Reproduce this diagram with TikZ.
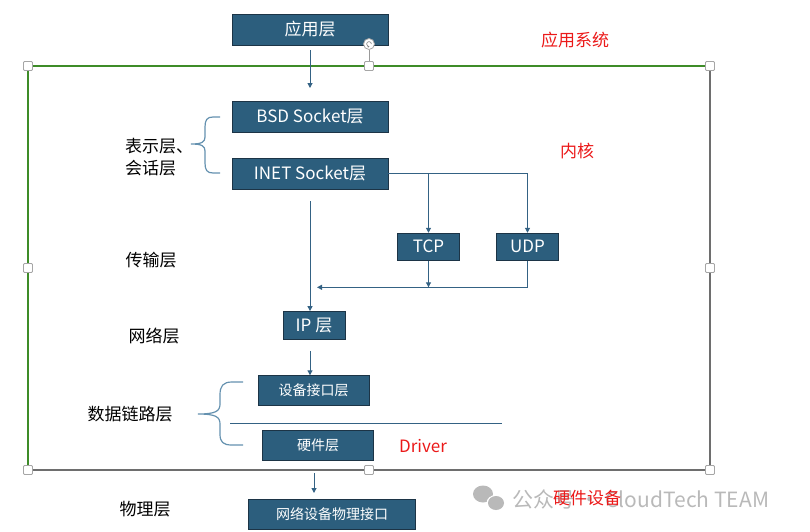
\documentclass[tikz,border=0pt]{standalone}
\usepackage{fontspec}
\setmainfont{Noto Sans CJK SC}
\usetikzlibrary{arrows.meta,calc}
\definecolor{boxblue}{RGB}{44,94,125}
\definecolor{boxedge}{RGB}{28,52,70}
\definecolor{flowblue}{RGB}{52,98,132}
\definecolor{braceblue}{RGB}{100,145,175}
\definecolor{kgreen}{RGB}{62,140,40}
\definecolor{kgray}{RGB}{110,110,110}
\definecolor{redtxt}{RGB}{235,25,25}
\definecolor{wmgray}{RGB}{185,185,185}
\tikzset{
    layer/.style =  {rectangle,
                    fill=boxblue,
                    draw=boxedge,
                    text=white,
                    line width=0.8pt,
                    inner sep=0pt,
                    font=\fontsize{17}{17}\selectfont},
    sublayer/.style = {layer,
                    font=\fontsize{14}{14}\selectfont},
    lbl/.style =    {inner sep=0pt,
                    text=black,
                    font=\fontsize{17}{21.5}\selectfont},
    note/.style =   {lbl,
                    text=redtxt},
    flow/.style =   {draw=flowblue,
                    line width=1pt},
    brace/.style =  {draw=braceblue,
                    line width=1.2pt},
    handle/.style = {rectangle,
                    rounded corners=1pt,
                    fill=white,
                    draw=gray!70,
                    line width=0.8pt,
                    minimum size=9pt,
                    inner sep=0pt},
    -,
    >={Triangle[length=5pt,width=5pt]}}

\begin{document}
\begin{tikzpicture}[x=1pt,y=-1pt]
        \useasboundingbox (0,0) rectangle (810,531);

        % kernel frame
        \coordinate (ktl) at (28,66);
        \coordinate (kbr) at (710,470);
        \draw [kgreen,line width=1.6pt] (ktl |- kbr) -- (ktl) -- (kbr |- ktl);
        \draw [kgray,line width=1.4pt]  (kbr |- ktl) -- (kbr) -- (ktl |- kbr);

        % layers
        \node[layer]    (app)  at (310,29.5)  [minimum width=156pt,minimum height=31pt] {应用层};
        \node[layer]    (bsd)  at (310,116.5) [minimum width=156pt,minimum height=31pt] {BSD Socket层};
        \node[layer]    (inet) at (310,173.5) [minimum width=156pt,minimum height=31pt] {INET Socket层};
        \node[layer]    (tcp)  at (428.5,246.7) [minimum width=62pt,minimum height=27pt] {TCP};
        \node[layer]    (udp)  at (527.5,246.7) [minimum width=62pt,minimum height=27pt] {UDP};
        \node[layer]    (ip)   at (314,325.5) [minimum width=62pt,minimum height=28pt]  {IP 层};
        \node[sublayer] (dev)  at (313.7,390.7) [minimum width=111pt,minimum height=30pt] {设备接口层};
        \node[sublayer] (hw)   at (318,445.7) [minimum width=111pt,minimum height=30pt]  {硬件层};
        \node[sublayer] (phy)  at (332,514)   [minimum width=167pt,minimum height=30pt]  {网络设备物理接口};

        % free ends
        \coordinate (appin) at (310,88);
        \coordinate (merge) at (317,287.3);
        \coordinate (sepl)  at (230,423.3);
        \coordinate (sepr)  at (501.7,423.3);
        \coordinate (hwout) at (314,473);
        \coordinate (phyin) at (314,493);

        \path [->]  ([yshift=-5pt]app.south) edge [flow] (appin)
                    (inet.east) edge [flow,to path={-| (\tikztotarget)}] (tcp.north)
                    (inet.east) edge [flow,to path={-| (\tikztotarget)}] (udp.north)
                    ([yshift=-12pt]inet.south) edge [flow] (inet.south |- ip.north)
                    (tcp.south) edge [flow] (tcp.south |- merge)
                    (udp.south) edge [flow,to path={|- (\tikztotarget)}] (merge)
                    ($(ip.south -| inet.south)+(0,11)$) edge [flow] (inet.south |- dev.north)
                    (hwout) edge [flow] (phyin);
        \draw [flow] (sepl) -- (sepr);

        % braces
        \draw [brace] (220,117) -- (213,117) .. controls (207,117) and (205,120) .. (205,127) -- (205,137)
                      .. controls (205,142) and (202,144) .. (191,144)
                      .. controls (202,144) and (205,146) .. (205,151) -- (205,163)
                      .. controls (205,170) and (207,173) .. (213,173) -- (220,173);
        \draw [brace] (243,382) -- (232,382) .. controls (223,382) and (220,386) .. (220,395) -- (220,404)
                      .. controls (220,411) and (216,414) .. (198,414)
                      .. controls (216,414) and (220,417) .. (220,424) -- (220,434)
                      .. controls (220,442) and (223,445) .. (232,445) -- (243,445);

        % layer names
        \node[lbl,align=left,anchor=west] (pres) at (125,157) {表示层、\\会话层};
        \node[lbl] (trans) at (151,260) {传输层};
        \node[lbl] (net)   at (154,336) {网络层};
        \node[lbl] (link)  at (130,414) {数据链路层};
        \node[lbl] (phys)  at (145,509) {物理层};

        % watermark
        \fill [wmgray] (483,494) ellipse (10pt and 8.5pt);
        \fill [white]  (496,503) ellipse (9.5pt and 8pt);
        \fill [wmgray] (496,503) ellipse (8pt and 7pt);
        \node[lbl,anchor=west,text=wmgray,font=\fontsize{21}{21}\selectfont] (wm) at (512,499) {公众号 · CloudTech TEAM};

        % notes
        \node[note] (appsys) at (575,40)  {应用系统};
        \node[note] (kern)   at (577,151) {内核};
        \node[note] (drv)    at (423,446) {Driver};
        \node[note] (hwdev)  at (587,498) {硬件设备};

        % selection handles
        \node[circle,fill=white,draw=gray!70,line width=0.8pt,minimum size=11pt,inner sep=0pt] (rot) at (369,44) {};
        \draw [gray,line width=0.6pt,-{Triangle[length=1.6pt,width=2pt]}] ([xshift=2.4pt]rot.center) arc[start angle=0,end angle=280,radius=2.4pt];
        \foreach \hx/\hy [count=\i] in {28/66,369/66,710/66,28/268,710/268,28/470,369/470,710/470}
            \node[handle] (h\i) at (\hx,\hy) {};
        \draw [gray!80,line width=0.8pt] (rot) -- (h2);
\end{tikzpicture}
\end{document}
